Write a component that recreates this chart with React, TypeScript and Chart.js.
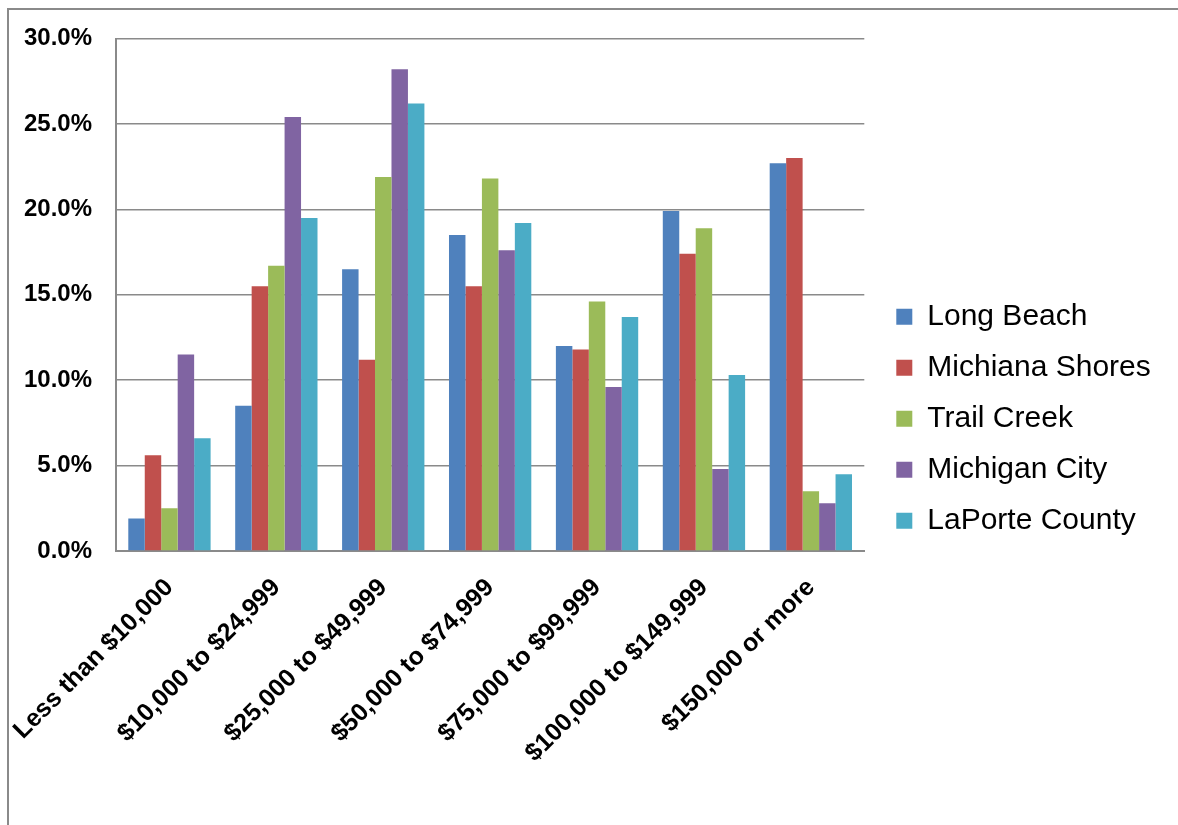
import React, { useEffect, useRef } from "react";
import { Chart, registerables } from "chart.js";

Chart.register(...registerables);

// Household income distribution by community (% of households)
const incomeBrackets = [
  "Less than $10,000",
  "$10,000 to $24,999",
  "$25,000 to $49,999",
  "$50,000 to $74,999",
  "$75,000 to $99,999",
  "$100,000 to $149,999",
  "$150,000 or more",
];

const longBeach = [1.9, 8.5, 16.5, 18.5, 12.0, 19.9, 22.7];
const michianaShores = [5.6, 15.5, 11.2, 15.5, 11.8, 17.4, 23.0];
const trailCreek = [2.5, 16.7, 21.9, 21.8, 14.6, 18.9, 3.5];
const michiganCity = [11.5, 25.4, 28.2, 17.6, 9.6, 4.8, 2.8];
const laporteCounty = [6.6, 19.5, 26.2, 19.2, 13.7, 10.3, 4.5];

const seriesNames = [
  "Long Beach",
  "Michiana Shores",
  "Trail Creek",
  "Michigan City",
  "LaPorte County",
];
const seriesColors = ["#4F81BD", "#C0504D", "#9BBB59", "#8064A2", "#4BACC6"];

const yMax = 30;
const yStep = 5;

const FONT = "'Liberation Sans', Arial, Helvetica, sans-serif";
const GRID = "#8a8a8a";

// Shifts the legend block to sit a little further right and higher
const legendOffset = {
  id: "legendOffset",
  afterLayout(chart: any) {
    const lg = chart.legend;
    if (!lg) return;
    const dx = 11;
    const dy = -13;
    lg.left += dx;
    lg.right += dx;
    lg.top += dy;
    lg.bottom += dy;
  },
};

export default function App() {
  const canvasRef = useRef<HTMLCanvasElement | null>(null);

  useEffect(() => {
    if (!canvasRef.current) return;
    const values = [longBeach, michianaShores, trailCreek, michiganCity, laporteCounty];
    const chart = new Chart(canvasRef.current, {
      type: "bar",
      data: {
        labels: incomeBrackets,
        datasets: values.map((data, i) => ({
          label: seriesNames[i],
          data,
          backgroundColor: seriesColors[i],
          borderWidth: 0,
          categoryPercentage: 0.77,
          barPercentage: 1.0,
        })),
      },
      options: {
        responsive: false,
        animation: false,
        layout: { padding: { top: 28.5, left: 0, right: 28.6, bottom: 0 } },
        plugins: {
          tooltip: { enabled: false },
          legend: {
            position: "right",
            align: "center",
            labels: {
              boxWidth: 16,
              boxHeight: 16,
              padding: 21,
              color: "#000",
              font: { family: FONT, size: 30 },
            },
          },
        },
        scales: {
          x: {
            grid: { display: false, drawTicks: false },
            border: { display: true, color: GRID, width: 2 },
            ticks: {
              color: "#000",
              font: { family: FONT, size: 25, weight: "bold" },
              maxRotation: 45,
              minRotation: 45,
              autoSkip: false,
              padding: 22,
            },
            afterFit(scale: any) {
              scale.height = 274;
              scale.paddingLeft = 0;
              scale.paddingRight = 0;
            },
          },
          y: {
            min: 0,
            max: yMax,
            grid: { color: GRID, lineWidth: 1.6, drawTicks: false },
            border: { display: true, color: GRID, width: 2 },
            ticks: {
              stepSize: yStep,
              color: "#000",
              padding: 24,
              font: { family: FONT, size: 24, weight: "bold" },
              callback: (v: any) => Number(v).toFixed(1) + "%",
            },
            afterFit(scale: any) {
              scale.width = 107;
              scale.paddingTop = 0;
              scale.paddingBottom = 0;
            },
          },
        },
      },
      plugins: [legendOffset],
    });
    return () => chart.destroy();
  }, []);

  return (
    <div
      style={{
        position: "fixed",
        left: 7,
        top: 8,
        right: 0,
        bottom: 0,
        borderTop: "2px solid #8a8a8a",
        borderLeft: "2px solid #8a8a8a",
        boxSizing: "border-box",
        background: "#fff",
      }}
    >
      <canvas ref={canvasRef} width={1169} height={815} style={{ display: "block" }} />
    </div>
  );
}
